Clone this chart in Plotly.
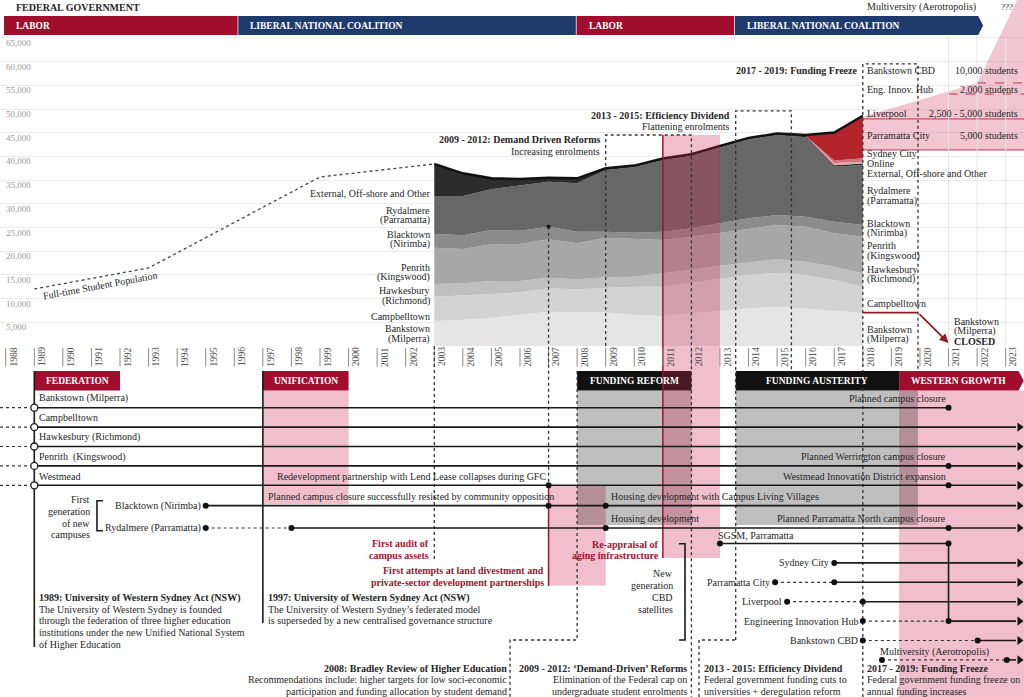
import plotly.graph_objects as go

# ============================ DATA ============================
YEARS = [2003, 2004, 2005, 2006, 2007, 2008, 2009, 2010, 2011, 2012, 2013, 2014, 2015, 2016, 2017, 2018]
BANKSTOWN_MILPERRA = [5280, 5490, 5980, 6540, 7240, 7100, 7100, 6540, 6330, 6890, 7450, 7950, 8300, 7950, 7450, 6890]
CAMPBELLTOWN = [5120, 5130, 4990, 4780, 4930, 4860, 5210, 5980, 6190, 6470, 6830, 7030, 7170, 7030, 6480, 5630]
HAWKESBURY_RICHMOND = [2680, 2600, 2750, 2400, 2250, 2110, 2180, 2110, 2810, 2680, 2670, 2670, 2820, 2820, 2810, 2810]
PENRITH_KINGSWOOD = [7660, 7250, 7730, 7800, 8080, 7590, 8360, 7950, 7040, 7030, 6960, 7180, 7240, 7380, 7030, 7740]
BLACKTOWN_NIRIMBA = [2890, 2880, 3030, 2810, 2670, 2460, 1270, 1330, 1750, 1760, 1970, 2110, 2110, 2110, 2460, 2460]
RYDALMERE_PARRAMATTA = [8020, 8300, 8580, 9490, 9500, 10210, 13020, 13860, 15130, 15330, 16040, 16660, 16880, 16740, 11600, 12660]
EXTERNAL_OFFSHORE = [6750, 4790, 2320, 1420, 840, 1050, 350, 300, 300, 300, 300, 300, 300, 300, 300, 300]
ONLINE = [0, 0, 0, 0, 0, 0, 0, 0, 0, 0, 0, 0, 0, 0, 500, 400]
SYDNEY_CITY = [0, 0, 0, 0, 0, 0, 0, 0, 0, 0, 0, 0, 0, 0, 500, 700]
PARRAMATTA_CITY = [0, 0, 0, 0, 0, 0, 0, 0, 0, 0, 0, 0, 0, 200, 5900, 9000]

POP_YEARS = [1989, 1993, 1999, 2003]
FULL_TIME_POP = [12030, 16460, 35660, 38400]

Y_TICKS = [5000, 10000, 15000, 20000, 25000, 30000, 35000, 40000, 45000, 50000, 55000, 60000, 65000]
Y_TICK_TEXT = ["5,000", "10,000", "15,000", "20,000", "25,000", "30,000", "35,000",
               "40,000", "45,000", "50,000", "55,000", "60,000", "65,000"]
TICK_YEARS = [1988, 1989, 1990, 1991, 1992, 1993, 1994, 1995, 1996, 1997, 1998, 1999, 2000, 2001,
              2002, 2003, 2004, 2005, 2006, 2007, 2008, 2009, 2010, 2011, 2012, 2013, 2014, 2015,
              2016, 2017, 2018, 2019, 2020, 2021, 2022, 2023]

GOV_PARTY = ["LABOR", "LIBERAL NATIONAL COALITION", "LABOR", "LIBERAL NATIONAL COALITION"]
GOV_START = [1987.94, 1996.14, 2007.98, 2013.52]
GOV_END = [1996.14, 2007.98, 2013.52, 2022.04]

PHASE_NAME = ["FEDERATION", "UNIFICATION", "FUNDING REFORM", "FUNDING AUSTERITY", "WESTERN GROWTH"]
PHASE_START = [1989, 1997, 2008, 2013.55, 2019.27]
PHASE_END = [1992, 2000, 2012, 2019.27, 2023.45]
PHASE_TONE = ["red", "red", "black", "black", "red"]

POLICY_TITLE = ["2009 - 2012: Demand Driven Reforms", "2013 - 2015: Efficiency Dividend", "2017 - 2019: Funding Freeze"]
POLICY_NOTE = ["Increasing enrolments", "Flattening enrolments", ""]
POLICY_START = [2009, 2013.55, 2018]
POLICY_END = [2012, 2015.5, 2019.93]
POLICY_TOP = [44520, 49590, 59500]

PROJ_YEARS = [2018, 2022, 2023.4, 2023.64]
PROJ_HIGH = [48380, 55500, 73000, 73000]
PROJ_LOW = [41360, 41360, 41360, 41360]
PROJ_CAMPUS = ["Bankstown CBD", "Eng. Innov. Hub", "Liverpool", "Parramatta City"]
PROJ_STUDENTS = ["10,000 students", "2,000 students", "2,500 - 5,000 students", "5,000 students"]
PROJ_STEP_VALUE = [55490, 53170, 47900, 41360]
PROJ_STEP_FROM = [2022, 2021, 2018, 2018]

BANKSTOWN_CLOSE = [2018, 2019.93, 2021]

TL_NAMES = ["Bankstown (Milperra)", "Campbelltown", "Hawkesbury (Richmond)", "Penrith  (Kingswood)", "Westmead",
            "Blacktown (Nirimba)", "Rydalmere (Parramatta)", "SGSM, Parramatta", "Sydney City", "Parramatta City",
            "Liverpool", "Engineering Innovation Hub", "Bankstown CBD", "Multiversity (Aerotropolis)"]
PRE = 1987.8
TL_PLANNED = [PRE, PRE, PRE, PRE, PRE, None, 1995, None, None, 2014.93, 2015.35, 2018, 2018, 2018.67]
TL_OPENED = [1989, 1989, 1989, 1989, 1989, 1995, 1998, 2013, 2017, 2017, 2018, 2021, 2022.02, 2023.04]
TL_CLOSED = [2021, None, None, None, None, None, None, 2021, None, None, None, None, None, None]
TL_EVENTS = [[], [], [], [2021], [2007, 2021], [2007, 2009], [2009, 2021], [], [], [], [], [], [], []]
TL_TRANSFER = [7, 11, 2021]

TL_NOTES = [("Planned campus closure", 0, 2021, "right"),
            ("Planned Werrington campus closure", 3, 2021, "right"),
            ("Westmead Innovation District expansion", 4, 2021, "right"),
            ("Redevelopment partnership with Lend Lease collapses during GFC", 4, 2007, "right"),
            ("Planned campus closure successfully resisted by community opposition", 5, 1997, "left"),
            ("Housing development with Campus Living Villages", 5, 2009, "left"),
            ("Housing development", 6, 2009, "left"),
            ("Planned Parramatta North campus closure", 6, 2021, "right")]

ACT_YEARS = [1989, 1997]
DIVESTMENT = [2007, 2009]
REAPPRAISAL = [2011, 2013]
AUDIT_YEAR = 2003

P_1989 = ["1989: University of Western Sydney Act (NSW)", "The University of Western Sydney is founded",
          "through the federation of three higher education", "institutions under the new Unified National System",
          "of Higher Education"]
P_1997 = ["1997: University of Western Sydney Act (NSW)", "The University of Western Sydney\u2019s federated model",
          "is superseded by a new centralised governance structure"]
P_2008 = ["2008: Bradley Review of Higher Education",
          "Recommendations include: higher targets for low soci-economic",
          "participation and funding allocation by student demand"]
P_2009 = ["2009 - 2012: \u2018Demand-Driven\u2019 Reforms", "Elimination of the Federal cap on",
          "undergraduate student enrolments"]
P_2013 = ["2013 - 2015: Efficiency Dividend", "Federal government funding cuts to",
          "universities + deregulation reform"]
P_2017 = ["2017 - 2019: Funding Freeze", "Federal government funding freeze on", "annual funding increases"]

# ============================ STYLE / GEOMETRY ============================
FONT = "Liberation Serif"
INK = "#262626"
LABOR_RED = "#a10d2d"
COALITION_BLUE = "#1e3a6b"
ALERT_RED = "#a3122e"
CLOSE_RED = "#8e1b24"
PINK = "rgba(205,40,85,0.30)"
WEDGE = "rgba(205,40,85,0.27)"
SHADE = "rgba(0,0,0,0.25)"

X0, XS = 34.3, 28.57
Y0, K = 346.0, 5000 / 23.7
R0, RS = 407.7, 19.4


def yx(px):
    return 1989 + (px - X0) / XS


def xp(yr):
    return X0 + (yr - 1989) * XS


def vy(py):
    return (Y0 - py) * K


def ry(py):
    return (py - R0) / RS


def v2r(v):
    return ry(Y0 - v / K)


ROW_POS = [0, 1, 2, 3, 4, 5.05, 6.2, 7, 8, 9, 10, 11, 12, 13]
X_END = yx(1016)
X_ARROW = yx(1019.5)
X_RIGHT = yx(1024)

fig = go.Figure()

# ------------------ stacked enrolments ------------------
layers = [(BANKSTOWN_MILPERRA, "#e5e5e5"), (CAMPBELLTOWN, "#d3d3d3"), (HAWKESBURY_RICHMOND, "#bfbfbf"),
          (PENRITH_KINGSWOOD, "#a7a7a7"), (BLACKTOWN_NIRIMBA, "#8c8c8c"), (RYDALMERE_PARRAMATTA, "#676767"),
          (EXTERNAL_OFFSHORE, "#2c2c2c"), (ONLINE, "#e7a3ac"), (SYDNEY_CITY, "#d4727c"),
          (PARRAMATTA_CITY, "#b3242d")]
for vals, col in layers:
    fig.add_trace(go.Scatter(x=YEARS, y=vals, stackgroup="uws", mode="lines",
                             line=dict(width=0, color=col), fillcolor=col, hoverinfo="skip"))
cum = []
run = [0] * len(YEARS)
for vals, _ in layers:
    run = [a + b for a, b in zip(run, vals)]
    cum.append(run)
total = cum[-1]

# projection wedge
fig.add_trace(go.Scatter(x=PROJ_YEARS + PROJ_YEARS[::-1], y=PROJ_HIGH + PROJ_LOW[::-1], fill="toself",
                         fillcolor=WEDGE, mode="lines", line=dict(width=0), hoverinfo="skip"))
for i, (v, x0) in enumerate(zip(PROJ_STEP_VALUE, PROJ_STEP_FROM)):
    fig.add_trace(go.Scatter(x=[x0, X_RIGHT], y=[v, v], mode="lines", hoverinfo="skip",
                             line=dict(color="#c0384d", width=1, dash="dash" if i < 2 else "solid")))

# grid verticals in projection zone
for yr in [2021, 2022, 2023]:
    fig.add_trace(go.Scatter(x=[yr, yr], y=[0, 65000], mode="lines", hoverinfo="skip",
                             line=dict(color="#e6e6e6", width=1)))

# ------------------ shading (timeline) ------------------
SHAPES = []


def rect(x0, x1, y0, y1, col, ref="y2", layer="below"):
    SHAPES.append(dict(type="rect", xref="x", yref=ref, x0=x0, x1=x1, y0=y0, y1=y1,
                       fillcolor=col, line=dict(width=0), layer=layer))


box_top, box_bot = ry(371), ry(390.5)
rect(PHASE_START[1], PHASE_END[1], box_bot, ry(504), PINK)
rect(PHASE_START[4], X_RIGHT, box_bot, ry(697), PINK)
rect(DIVESTMENT[0], DIVESTMENT[1], ry(485), ry(585.5), PINK)
rect(PHASE_START[2], PHASE_END[2], box_bot, ry(525), SHADE)
rect(PHASE_START[3], POLICY_END[2], box_bot, ry(525), SHADE)

# government bands
g0, g1 = vy(35), vy(16)
for i, (p, s, e) in enumerate(zip(GOV_PARTY, GOV_START, GOV_END)):
    col = LABOR_RED if p == "LABOR" else COALITION_BLUE
    e2 = e - 0.025
    if i == len(GOV_PARTY) - 1:
        tip = e + 0.17
        path = f"M {s},{g0} L {e},{g0} L {tip},{(g0 + g1) / 2} L {e},{g1} L {s},{g1} Z"
        SHAPES.append(dict(type="path", xref="x", yref="y", path=path, fillcolor=col, line=dict(width=0)))
    else:
        rect(s, e2, g0, g1, col, ref="y")

# phase boxes
for i, (n, s, e, t) in enumerate(zip(PHASE_NAME, PHASE_START, PHASE_END, PHASE_TONE)):
    col = LABOR_RED if t == "red" else "#111111"
    if i == len(PHASE_NAME) - 1:
        tip = X_RIGHT - 0.01
        path = f"M {s},{box_top} L {e},{box_top} L {tip},{(box_top + box_bot) / 2} L {e},{box_bot} L {s},{box_bot} Z"
        SHAPES.append(dict(type="path", xref="x", yref="y2", path=path, fillcolor=col, line=dict(width=0)))
    else:
        rect(s, e, box_top, box_bot, col)

# ------------------ re-appraisal column over the chart ------------------
col_top, col_bot = v2r(POLICY_TOP[0]), ry(558)
fig.add_trace(go.Scatter(x=[REAPPRAISAL[0], REAPPRAISAL[1], REAPPRAISAL[1], REAPPRAISAL[0]],
                         y=[col_top, col_top, col_bot, col_bot], yaxis="y2", fill="toself",
                         fillcolor=PINK, mode="lines", line=dict(width=0), hoverinfo="skip"))
fig.add_trace(go.Scatter(x=[REAPPRAISAL[0], REAPPRAISAL[0]], y=[col_top, col_bot], yaxis="y2", mode="lines",
                         line=dict(color=ALERT_RED, width=1.5), hoverinfo="skip"))
fig.add_trace(go.Scatter(x=[DIVESTMENT[0], DIVESTMENT[0]], y=[ry(485), ry(586)], yaxis="y2", mode="lines",
                         line=dict(color=ALERT_RED, width=1.5), hoverinfo="skip"))

# total outline
fig.add_trace(go.Scatter(x=YEARS, y=total, mode="lines", line=dict(color="#111111", width=2.4), hoverinfo="skip"))
# full-time population
fig.add_trace(go.Scatter(x=POP_YEARS, y=FULL_TIME_POP, mode="lines", hoverinfo="skip",
                         line=dict(color="#444444", width=1.3, dash="dot")))

# Bankstown closure line
fig.add_trace(go.Scatter(x=BANKSTOWN_CLOSE[:2], y=[vy(312.7), vy(312.7)], mode="lines", hoverinfo="skip",
                         line=dict(color=CLOSE_RED, width=1.8)))

# year tick bars
bx, by = [], []
for yr in TICK_YEARS:
    bx += [yr, yr, None]
    by += [ry(348), ry(366.5), None]
fig.add_trace(go.Scatter(x=bx, y=by, yaxis="y2", mode="lines", line=dict(color="#8a8a8a", width=1),
                         hoverinfo="skip"))

# ------------------ dashed guides ------------------
dx, dy = [], []


def dpath(pts):
    for (a, b) in pts:
        dx.append(a)
        dy.append(b)
    dx.append(None)
    dy.append(None)


dpath([(AUDIT_YEAR, ry(346)), (AUDIT_YEAR, ry(559))])
dpath([(DIVESTMENT[0], v2r(cum[4][YEARS.index(2007)])), (DIVESTMENT[0], ry(485))])
dpath([(PHASE_START[2], box_top), (PHASE_START[2], ry(640)), (yx(510), ry(640)), (yx(510), ry(697))])
p0 = [v2r(v) for v in POLICY_TOP]
dpath([(POLICY_START[0], ry(346)), (POLICY_START[0], p0[0]), (POLICY_END[0], p0[0]), (POLICY_END[0], ry(697))])
dpath([(POLICY_START[1], ry(640)), (POLICY_START[1], p0[1]), (POLICY_END[1], p0[1]), (POLICY_END[1], ry(371))])
dpath([(yx(699), ry(697)), (yx(699), ry(640)), (POLICY_START[1], ry(640))])
dpath([(POLICY_START[2], ry(697)), (POLICY_START[2], p0[2]), (POLICY_END[2], p0[2]), (POLICY_END[2], ry(371))])
fig.add_trace(go.Scatter(x=dx, y=dy, yaxis="y2", mode="lines", hoverinfo="skip",
                         line=dict(color="#333333", width=1.3, dash="dot")))

# ------------------ timeline rows ------------------
sx, sy, tx, ty = [], [], [], []
dotx, doty, openx, openy, arx, ary = [], [], [], [], [], []
for i, name in enumerate(TL_NAMES):
    r = ROW_POS[i]
    pl, op, cl = TL_PLANNED[i], TL_OPENED[i], TL_CLOSED[i]
    if pl is not None:
        tx += [pl, op, None]
        ty += [r, r, None]
        if pl != PRE:
            dotx.append(pl)
            doty.append(r)
    end = cl if cl is not None else X_END
    sx += [op, end, None]
    sy += [r, r, None]
    if pl == PRE:
        openx.append(op)
        openy.append(r)
    else:
        dotx.append(op)
        doty.append(r)
    if cl is not None:
        dotx.append(cl)
        doty.append(r)
    else:
        arx.append(X_ARROW)
        ary.append(r)
    for ev in TL_EVENTS[i]:
        dotx.append(ev)
        doty.append(r)
sx += [TL_TRANSFER[2], TL_TRANSFER[2], None]
sy += [ROW_POS[TL_TRANSFER[0]], ROW_POS[TL_TRANSFER[1]], None]
sx += [ACT_YEARS[0], ACT_YEARS[0], None, ACT_YEARS[1], ACT_YEARS[1], None]
sy += [box_top, ry(647), None, box_top, ry(623), None]
sx += [yx(103), yx(97), yx(97), yx(103), None, yx(679), yx(685), yx(685), yx(679), None]
sy += [ry(500.7), ry(500.7), ry(530.7), ry(530.7), None, ry(543.7), ry(543.7), ry(640), ry(640), None]

fig.add_trace(go.Scatter(x=tx, y=ty, yaxis="y2", mode="lines", hoverinfo="skip",
                         line=dict(color="#333333", width=1.2, dash="dot")))
fig.add_trace(go.Scatter(x=sx, y=sy, yaxis="y2", mode="lines", hoverinfo="skip",
                         line=dict(color="#1a1a1a", width=1.6)))
fig.add_trace(go.Scatter(x=dotx, y=doty, yaxis="y2", mode="markers", hoverinfo="skip",
                         marker=dict(size=6, color="#111111")))
fig.add_trace(go.Scatter(x=openx, y=openy, yaxis="y2", mode="markers", hoverinfo="skip",
                         marker=dict(size=7, color="white", line=dict(color="#1a1a1a", width=1.3))))
fig.add_trace(go.Scatter(x=arx, y=ary, yaxis="y2", mode="markers", hoverinfo="skip",
                         marker=dict(size=8, color="#111111", symbol="triangle-right")))
fig.add_trace(go.Scatter(x=[DIVESTMENT[0]], y=[cum[4][YEARS.index(2007)]], mode="markers", hoverinfo="skip",
                         marker=dict(size=4, color="#111111")))

# ------------------ annotations ------------------
ANN = []


def T(px, py, text, anchor="left", size=10, color=INK, bold=False, angle=0):
    ANN.append(dict(x=yx(px), y=ry(py), xref="x", yref="y2", text=("<b>%s</b>" % text) if bold else text,
                    showarrow=False, xanchor=anchor, yanchor="middle", textangle=angle, borderpad=0,
                    font=dict(family=FONT, size=size, color=color)))


def para(lines, px, py, anchor, step=11.6):
    for k, ln in enumerate(lines):
        T(px, py + k * step, ln, anchor=anchor, bold=(k == 0))


T(15, 7, "FEDERAL GOVERNMENT", bold=True, size=10)
T(866, 7, "Multiversity (Aerotropolis)")
T(1000, 7, "???", size=9)
for p, s in zip(GOV_PARTY, GOV_START):
    T(xp(s) + 11, 25.7, p, bold=True, color="white", size=9.5)
for v, t in zip(Y_TICKS, Y_TICK_TEXT):
    T(5, Y0 - v / K + 5, t, size=9, color="#9a9a9a")
T(100, 285, "Full-time Student Population", anchor="center", angle=-10.4)

for t, py in [("External, Off-shore and Other", 193.3), ("Rydalmere", 210), ("(Parramatta)", 220),
              ("Blacktown", 234), ("(Nirimba)", 244), ("Penrith", 267), ("(Kingswood)", 277),
              ("Hawkesbury", 290.7), ("(Richmond)", 300.7), ("Campbelltown", 316.7), ("Bankstown", 328.7),
              ("(Milperra)", 338.7)]:
    T(431, py, t, anchor="right")
for t, py in zip(PROJ_CAMPUS, [70, 89, 113, 135]):
    T(866, py, t)
for t, py in zip(PROJ_STUDENTS, [70, 89, 113, 135]):
    T(1019, py, t, anchor="right")
for t, py in [("Sydney City", 153), ("Online", 163.5), ("External, Off-shore and Other", 173.8),
              ("Rydalmere", 190.7), ("(Parramatta)", 200.7), ("Blacktown", 223.3), ("(Nirimba)", 233.3),
              ("Penrith", 245.7), ("(Kingswood)", 255.7), ("Hawkesbury", 269), ("(Richmond)", 279),
              ("Campbelltown", 303.3), ("Bankstown", 329), ("(Milperra)", 339)]:
    T(866, py, t)
T(953, 321, "Bankstown")
T(953, 331, "(Milperra)")
T(953, 341, "CLOSED", bold=True)

for title, note, s, py in zip(POLICY_TITLE, POLICY_NOTE, POLICY_START, [139.3, 115, 70]):
    T(xp(s) - 5, py, title, anchor="right", bold=True)
    if note:
        T(xp(s) - 5, py + 11.7, note, anchor="right")

for yr in TICK_YEARS:
    T(xp(yr) + 6.8, 357, str(yr), anchor="center", size=9.6, color="#555555", angle=-90)
for n, s, e in zip(PHASE_NAME, PHASE_START, PHASE_END):
    T((xp(s) + xp(e)) / 2, 381, n, anchor="center", bold=True, color="white", size=9.5)

for i, name in enumerate(TL_NAMES):
    rp = R0 + ROW_POS[i] * RS
    first = TL_PLANNED[i] if (TL_PLANNED[i] is not None and TL_PLANNED[i] != PRE) else TL_OPENED[i]
    if i <= 4:
        T(38, rp - 9.3, name)
    elif i in (7, 13):
        T(xp(first) - 3, rp - 8.3, name)
    else:
        T(xp(first) - 4, rp, name, anchor="right")
for text, row, yr, anc in TL_NOTES:
    rp = R0 + ROW_POS[row] * RS
    T(xp(yr) + (-2 if anc == "right" else 4), rp - 9.2, text, anchor=anc)

for t, py in [("First", 499.7), ("generation", 511.7), ("of new", 523.3), ("campuses", 534.3)]:
    T(91, py, t, anchor="right")
for t, py in [("New", 573.3), ("generation", 585.5), ("CBD", 597.3), ("satellites", 609)]:
    T(674, py, t, anchor="right")
T(xp(AUDIT_YEAR) - 4, 543.7, "First audit of", anchor="right", bold=True, color=ALERT_RED)
T(xp(AUDIT_YEAR) - 4, 555.3, "campus assets", anchor="right", bold=True, color=ALERT_RED)
T(xp(DIVESTMENT[0]) - 4, 570.7, "First attempts at land divestment and", anchor="right", bold=True, color=ALERT_RED)
T(xp(DIVESTMENT[0]) - 4, 582.3, "private-sector development partnerships", anchor="right", bold=True, color=ALERT_RED)
T(xp(REAPPRAISAL[0]) - 3, 544.3, "Re-appraisal of", anchor="right", bold=True, color=ALERT_RED)
T(xp(REAPPRAISAL[0]) - 3, 555.7, "aging infrastructure", anchor="right", bold=True, color=ALERT_RED)

para(P_1989, 38, 597.7, "left")
para(P_1997, 267, 597.7, "left")
para(P_2008, 508, 668.3, "right")
para(P_2009, 688, 668.3, "right")
para(P_2013, 703, 668.3, "left")
para(P_2017, 866, 668.3, "left")

ANN.append(dict(x=BANKSTOWN_CLOSE[2], y=vy(343), ax=BANKSTOWN_CLOSE[1], ay=vy(312.7), xref="x", yref="y",
                axref="x", ayref="y", showarrow=True, arrowhead=2, arrowsize=1, arrowwidth=1.8,
                arrowcolor=CLOSE_RED, text=""))

fig.update_layout(
    width=1024, height=697, margin=dict(l=0, r=0, t=0, b=0),
    paper_bgcolor="white", plot_bgcolor="white", showlegend=False, hovermode=False,
    font=dict(family=FONT, size=10, color=INK),
    xaxis=dict(range=[yx(0), yx(1024)], visible=False, fixedrange=True),
    yaxis=dict(range=[vy(697), vy(0)], tickvals=Y_TICKS, showticklabels=False, showgrid=True,
               gridcolor="#ebebeb", gridwidth=1, zeroline=False, showline=False, ticks="", fixedrange=True),
    yaxis2=dict(range=[ry(697), ry(0)], overlaying="y", anchor="x", visible=False, fixedrange=True),
    annotations=ANN, shapes=SHAPES,
)

fig.write_html("out.html", config={"displayModeBar": False},
               post_script="document.body.style.margin='0px';document.body.style.overflow='hidden';")
